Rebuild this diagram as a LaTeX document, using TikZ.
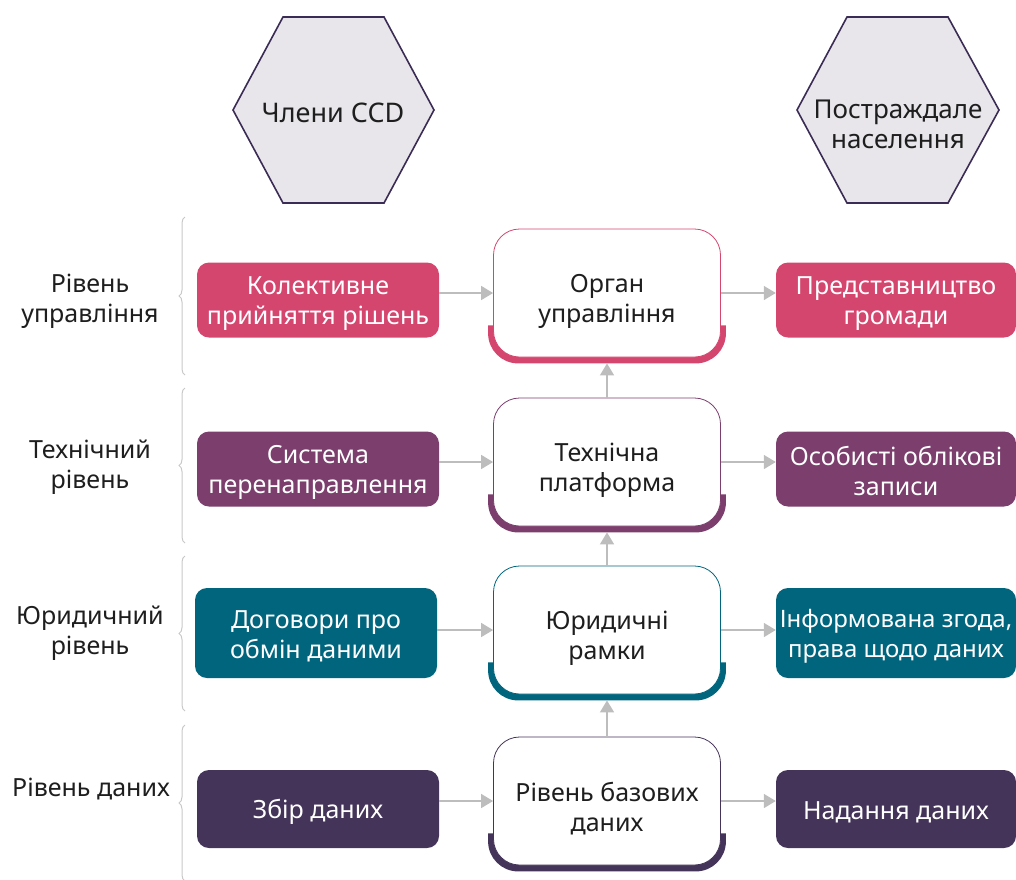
\documentclass[tikz,border=0pt]{standalone}
\usepackage{fontspec}
\setmainfont{Noto Sans}
\usetikzlibrary{positioning, arrows.meta, decorations.pathreplacing, backgrounds}
\definecolor{govpink}{HTML}{D5466F}
\definecolor{techplum}{HTML}{7B3E6D}
\definecolor{lawteal}{HTML}{00657D}
\definecolor{datapurple}{HTML}{45345A}
\definecolor{hexfill}{HTML}{E8E6EA}
\definecolor{hexline}{HTML}{3B2C55}
\definecolor{arrowgray}{HTML}{BDBDBD}
\definecolor{bracegray}{HTML}{C8C8C8}
\definecolor{labeltext}{HTML}{1E1E1E}
% struts that push the first line down
\newcommand{\coreup}{\rule{0pt}{34pt}}
\newcommand{\sideup}{\rule{0pt}{24pt}}

\begin{document}
\begin{tikzpicture}[x=1pt, y=-1pt, font=\fontsize{25}{30}\selectfont, text=labeltext,
    side/.style={fill=#1, rounded corners=12pt, text=white, align=center,
      minimum width=242pt, minimum height=75pt, inner sep=0pt},
    core/.style={draw=#1, fill=white, line width=0.8pt, rounded corners=26pt, align=center,
      minimum width=227pt, minimum height=128pt, inner sep=0pt},
    link/.style={-{Triangle[length=12pt,width=14pt]}, draw=arrowgray, line width=1.6pt},
    layer/.style={decorate, decoration={brace, amplitude=6pt}, draw=bracegray, line width=1pt},
    hexa/.style={fill=hexfill, draw=hexline, line width=1.6pt}]
    \useasboundingbox (0,0) rectangle (1016,879);

    % hexagons
    \filldraw[hexa] (233,110) -- (283,17) -- (384,17) -- (434,110) -- (384,203) -- (283,203) -- cycle;
    \filldraw[hexa] (797,110) -- (847,17) -- (948,17) -- (999,110) -- (948,203) -- (847,203) -- cycle;
    \node[font=\fontsize{27}{30}\selectfont] (members) at (333,113) {Члени CCD};
    \node[font=\fontsize{26}{30}\selectfont, align=center] (people) at (898,124) {Постраждале\\населення};

    % braces
    \draw[layer] (185,375) -- (185,217);
    \draw[layer] (185,543) -- (185,388);
    \draw[layer] (185,711) -- (185,556);
    \draw[layer] (185,881) -- (185,725);

    % layer labels
    \node[align=center] (lgov) at (90,301) {Рівень\\управління};
    \node[align=center] (ltech) at (90,467) {Технічний\\рівень};
    \node[align=center] (llaw) at (90,633) {Юридичний\\рівень};
    \node (ldata) at (91,789) {Рівень даних};

    % left column
    \node[side=govpink] (coll) at (318,300) {\sideup Колективне\\прийняття рішень};
    \node[side=techplum] (redir) at (318,469) {\sideup Система\\перенаправлення};
    \node[side=lawteal, minimum height=90pt] (deal) at (316,633) {\sideup Договори про\\обмін даними};
    \node[side=datapurple, minimum height=78pt] (collect) at (318,809) {\sideup Збір даних};

    % middle column
    \node[core=govpink] (gov) at (607,293) {\coreup Орган\\управління};
    \node[core=techplum] (tech) at (607,462) {\coreup Технічна\\платформа};
    \node[core=lawteal] (legal) at (607,630) {\coreup Юридичні\\рамки};
    \node[core=datapurple] (base) at (607,801) {\coreup Рівень базових\\даних};
    \begin{scope}[on background layer]
      \foreach \n/\c in {gov/govpink, tech/techplum, legal/lawteal, base/datapurple}
        \fill[\c] ([shift={(-5pt,32pt)}]\n.south west) [rounded corners=30pt]
          -- ([shift={(-5pt,-6pt)}]\n.south west) -- ([shift={(5pt,-6pt)}]\n.south east)
          [sharp corners] -- ([shift={(5pt,32pt)}]\n.south east) -- cycle;
    \end{scope}

    % right column
    \node[side=govpink, minimum width=240pt] (repr) at (896,300) {\sideup Представництво\\громади};
    \node[side=techplum, minimum width=240pt] (acct) at (896,469) {\sideup Особисті облікові\\записи};
    \node[side=lawteal, minimum width=240pt, minimum height=90pt, font=\fontsize{24}{30}\selectfont] (consent) at (896,633) {\sideup Інформована згода,\\права щодо даних};
    \node[side=datapurple, minimum width=240pt, minimum height=78pt] (share) at (896,809) {\sideup Надання даних};

    % arrows
    \draw[link] (coll.east |- gov) -- (gov);
    \draw[link] (redir.east |- tech) -- (tech);
    \draw[link] (deal.east |- legal) -- (legal);
    \draw[link] (collect.east |- base) -- (base);
    \draw[link] (gov) -- (repr.west |- gov);
    \draw[link] (tech) -- (acct.west |- tech);
    \draw[link] (legal) -- (consent.west |- legal);
    \draw[link] (base) -- (share.west |- base);
    \draw[link, shorten >=6pt] (base) -- (legal);
    \draw[link, shorten >=6pt] (legal) -- (tech);
    \draw[link, shorten >=6pt] (tech) -- (gov);
\end{tikzpicture}
\end{document}
